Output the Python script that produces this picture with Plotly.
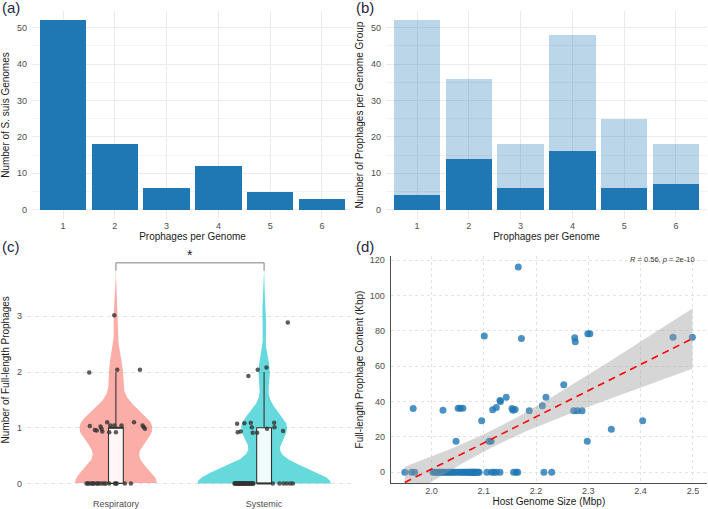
import numpy as np
import plotly.graph_objects as go

W, H = 708, 509
FONT = "Liberation Sans, Arial, sans-serif"
TICK_C = "#4d4d4d"
TITLE_C = "#1a1a1a"
TAG_C = "#262640"
BLUE = "#1f77b4"

# ---------------- data ----------------
# (a)
prophage_counts = [1, 2, 3, 4, 5, 6]
genomes_per_count = [52, 18, 6, 12, 5, 3]
# (b)
prophages_total = [52, 36, 18, 48, 25, 18]
prophages_full = [4, 14, 6, 16, 6, 7]
# (c) jittered points as read (y) and horizontal jitter (category units)
resp_y = [3.02, 1.99, 2.04, 2.04,
          1.03, 0.96, 0.95, 1.02, 0.98, 0.93, 1.10, 0.92, 1.04, 1.04, 0.92, 1.04, 1.10, 1.04, 1.01, 0.98,
          0, 0, 0, 0, 0, 0, 0, 0, 0, 0, 0, 0, 0, 0, 0, 0, 0, 0]
resp_dx = [-0.011, -0.18, 0.009, 0.162,
           -0.176, -0.142, -0.13, -0.104, -0.097, -0.092, -0.059, -0.045, -0.038, -0.011, 0.0, 0.038, 0.122, 0.18, 0.189, 0.196,
           -0.198, -0.18, -0.164, -0.149, -0.131, -0.113, -0.095, -0.068, -0.045, -0.007, 0.005, 0.061, 0.101,
           -0.19, -0.156, -0.122, -0.08, 0.0]
sys_y = [2.89, 1.93, 2.04, 2.08,
         1.07, 0.92, 0.93, 1.08, 1.09, 1.01, 0.91, 0.91, 0.98, 1.09, 1.01, 0.94] + [0] * 35
sys_dx = [0.16, -0.106, -0.043, 0.016,
          -0.182, -0.178, -0.158, -0.133, -0.09, -0.083, -0.077, -0.047, 0.02, 0.068, 0.07, 0.128,
          -0.196, -0.185, -0.174, -0.162, -0.151, -0.14, -0.128, -0.117, -0.106, -0.095, -0.083, -0.072,
          0.059, 0.104, 0.131, 0.153, 0.176, 0.194,
          -0.2, -0.19, -0.18, -0.17, -0.16, -0.15, -0.14, -0.13, -0.12, -0.11, -0.1, -0.09, -0.08, -0.075,
          -0.188, -0.165, -0.135]
groups = ["Respiratory", "Systemic"]
# (d) host genome size (Mbp) vs full-length prophage content (Kbp)
genome_size = [1.965, 2.022, 2.047, 2.051, 2.055, 2.060, 2.096, 2.101, 2.110, 2.114, 2.117, 2.124,
               2.131, 2.132, 2.143, 2.154, 2.156, 2.160, 2.166, 2.172, 2.187, 2.212, 2.219, 2.253,
               2.272, 2.274, 2.275, 2.279, 2.288, 2.298, 2.299, 2.303, 2.344, 2.404, 2.462, 2.499,
               1.949, 1.962, 1.968,
               2.003, 2.010, 2.016, 2.022, 2.029, 2.035, 2.041, 2.048, 2.056, 2.062, 2.068, 2.073,
               2.077, 2.080, 2.083, 2.087, 2.091,
               2.006, 2.013, 2.019, 2.025, 2.032, 2.038, 2.044, 2.052, 2.059, 2.065, 2.070, 2.075,
               2.078, 2.082, 2.085, 2.089,
               2.106, 2.115, 2.119, 2.124, 2.131, 2.157, 2.162, 2.165, 2.215, 2.230]
prophage_kbp = [36.0, 35.0, 17.5, 36.2, 36.2, 36.2, 29.0, 77.0, 17.5, 17.5, 35.3, 36.5,
                40.5, 40.0, 42.3, 36.0, 35.0, 35.5, 116.0, 75.6, 34.7, 37.5, 42.3, 49.5,
                34.7, 76.0, 73.8, 34.7, 34.7, 17.5, 78.3, 78.3, 24.2, 29.0, 76.3, 76.3] + [0.0] * 46
stat_label = "<i>R</i> = 0.56, <i>p</i> = 2e-10"


def px_x(a, b):
    return [a / W, b / W]


def px_y(top, bottom):
    return [1 - bottom / H, 1 - top / H]


fig = go.Figure()

# ---------------- (a) ----------------
fig.add_trace(go.Bar(x=prophage_counts, y=genomes_per_count, width=0.9,
                     marker=dict(color=BLUE, line=dict(width=0)),
                     xaxis="x", yaxis="y", showlegend=False))
# ---------------- (b) ----------------
fig.add_trace(go.Bar(x=prophage_counts, y=prophages_total, width=0.9,
                     marker=dict(color="rgba(31,119,180,0.3)", line=dict(width=0)),
                     xaxis="x2", yaxis="y2", showlegend=False))
fig.add_trace(go.Bar(x=prophage_counts, y=prophages_full, width=0.9,
                     marker=dict(color=BLUE, line=dict(width=0)),
                     xaxis="x2", yaxis="y2", showlegend=False))

# ---------------- (c) violins ----------------
vals = [np.round(np.array(resp_y)), np.round(np.array(sys_y))]
dens_list = []
for v in vals:
    n = len(v)
    sd = np.std(v, ddof=1)
    q75, q25 = np.percentile(v, [75, 25])
    bw = 0.9 * min(sd, (q75 - q25) / 1.34) * n ** -0.2
    grid = np.linspace(v.min() - 3 * bw, v.max() + 3 * bw, 512)
    d = np.exp(-0.5 * ((grid[:, None] - v[None, :]) / bw) ** 2).sum(axis=1) / (n * bw * np.sqrt(2 * np.pi))
    keep = grid >= 0
    dens_list.append((grid[keep], d[keep]))
dmax = max(d.max() for _, d in dens_list)
vcols = ["rgba(248,118,109,0.6)", "rgba(0,191,196,0.6)"]
for i, (g, d) in enumerate(dens_list):
    c = i + 1
    hw = 0.45 * d / dmax
    xs = np.concatenate([c - hw, (c + hw)[::-1]])
    ys = np.concatenate([g, g[::-1]])
    fig.add_trace(go.Scatter(x=xs, y=ys, fill="toself", fillcolor=vcols[i], mode="lines",
                             line=dict(width=0), xaxis="x3", yaxis="y3", showlegend=False,
                             hoverinfo="skip"))
# boxes (drawn as scatter so layering follows trace order)
BOXC = "#333333"
bw_half = 0.05
for i, v in enumerate(vals):
    c = i + 1
    q1, med, q3 = np.percentile(v, [25, 50, 75])
    iqr = q3 - q1
    up = v[v <= q3 + 1.5 * iqr].max()
    lo = v[v >= q1 - 1.5 * iqr].min()
    fig.add_trace(go.Scatter(x=[c - bw_half, c + bw_half, c + bw_half, c - bw_half, c - bw_half],
                             y=[q1, q1, q3, q3, q1], fill="toself",
                             fillcolor="rgba(255,255,255,0.9)", mode="lines",
                             line=dict(color=BOXC, width=1.1), xaxis="x3", yaxis="y3",
                             showlegend=False, hoverinfo="skip"))
    fig.add_trace(go.Scatter(x=[c, c, None, c, c], y=[q3, up, None, q1, lo], mode="lines",
                             line=dict(color=BOXC, width=1.1), xaxis="x3", yaxis="y3",
                             showlegend=False, hoverinfo="skip"))
    fig.add_trace(go.Scatter(x=[c - bw_half, c + bw_half], y=[med, med], mode="lines",
                             line=dict(color=BOXC, width=2), xaxis="x3", yaxis="y3",
                             showlegend=False, hoverinfo="skip"))
# jittered points
for i, (yy, dx) in enumerate([(resp_y, resp_dx), (sys_y, sys_dx)]):
    c = i + 1
    fig.add_trace(go.Scatter(x=[c + d for d in dx], y=yy, mode="markers",
                             marker=dict(color="rgba(51,51,51,0.8)", size=4.5, line=dict(width=0)),
                             xaxis="x3", yaxis="y3", showlegend=False))

# ---------------- (d) ----------------
gx = np.array(genome_size)
gy = np.array(prophage_kbp)
fig.add_trace(go.Scatter(x=gx, y=gy, mode="markers",
                         marker=dict(color="rgba(31,119,180,0.8)", size=7, line=dict(width=0)),
                         xaxis="x4", yaxis="y4", showlegend=False))
slope, intercept = np.polyfit(gx, gy, 1)
xs = np.linspace(gx.min(), gx.max(), 80)
fit = slope * xs + intercept
n = len(gx)
resid = gy - (slope * gx + intercept)
s = np.sqrt((resid ** 2).sum() / (n - 2))
se = s * np.sqrt(1 / n + (xs - gx.mean()) ** 2 / ((gx - gx.mean()) ** 2).sum())
tq = 1.99
fig.add_trace(go.Scatter(x=np.concatenate([xs, xs[::-1]]),
                         y=np.concatenate([fit + tq * se, (fit - tq * se)[::-1]]),
                         fill="toself", fillcolor="rgba(153,153,153,0.4)", mode="lines",
                         line=dict(width=0), xaxis="x4", yaxis="y4", showlegend=False,
                         hoverinfo="skip"))
fig.add_trace(go.Scatter(x=xs, y=fit, mode="lines",
                         line=dict(color="#ff0000", width=1.6, dash="7px,5px"),
                         xaxis="x4", yaxis="y4", showlegend=False))

# ---------------- layout ----------------
tickf = dict(family=FONT, size=9, color=TICK_C)
titlef = dict(family=FONT, size=10, color=TITLE_C)
grid_major = "#ebebeb"

common_cat = dict(tickvals=prophage_counts, ticktext=[str(v) for v in prophage_counts],
                  range=[0.4, 6.6], showgrid=True, gridcolor=grid_major, gridwidth=1,
                  zeroline=False, showline=False, ticks="", tickfont=tickf,
                  title=dict(text="Prophages per Genome", font=titlef, standoff=2),
                  fixedrange=True)
common_cnt = dict(range=[-2.6, 54.6], tickvals=[0, 10, 20, 30, 40, 50], showgrid=True,
                  gridcolor=grid_major, gridwidth=1, zeroline=False, showline=False, ticks="",
                  tickfont=tickf, minor=dict(dtick=5, showgrid=True, gridcolor="#f3f3f3", gridwidth=0.8),
                  ticklabelstandoff=4)

fig.update_layout(
    width=W, height=H, margin=dict(l=0, r=0, t=0, b=0),
    paper_bgcolor="white", plot_bgcolor="white", barmode="overlay", bargap=0,
    font=dict(family=FONT),
    xaxis=dict(domain=px_x(32, 353), anchor="y", **common_cat),
    yaxis=dict(domain=px_y(11, 220), anchor="x",
               title=dict(text="Number of S. suis Genomes", font=titlef, standoff=5), **common_cnt),
    xaxis2=dict(domain=px_x(386, 707), anchor="y2", **common_cat),
    yaxis2=dict(domain=px_y(11, 220), anchor="x2",
                title=dict(text="Number of Prophages per Genome Group", font=titlef, standoff=5),
                **common_cnt),
    xaxis3=dict(domain=px_x(27, 353), anchor="y3", range=[0.4, 2.6], tickvals=[1, 2],
                ticktext=groups, showgrid=False, zeroline=False, showline=False, ticks="",
                tickfont=tickf, ticklabelstandoff=2),
    yaxis3=dict(domain=px_y(246, 496.5), anchor="x3", range=[-0.2, 4.28], tickvals=[0, 1, 2, 3],
                showgrid=True, gridcolor="#e3e3e3", griddash="4px,4px", gridwidth=1, zeroline=False,
                showline=False, ticks="", tickfont=tickf, ticklabelstandoff=4,
                title=dict(text="Number of Full-length Prophages", font=titlef, standoff=5)),
    xaxis4=dict(domain=px_x(390.7, 707), anchor="y4", range=[1.922, 2.527],
                tickvals=[2.0, 2.1, 2.2, 2.3, 2.4, 2.5], ticktext=["2.0", "2.1", "2.2", "2.3", "2.4", "2.5"],
                showgrid=True, gridcolor="#e3e3e3", griddash="3px,3px", gridwidth=1, zeroline=False,
                showline=True, linecolor="#4d4d4d", linewidth=1, ticks="", tickfont=tickf,
                ticklabelstandoff=-1,
                title=dict(text="Host Genome Size (Mbp)", font=titlef, standoff=0)),
    yaxis4=dict(domain=px_y(256.6, 485.3), anchor="x4", range=[-6.37, 122.5],
                tickvals=[0, 20, 40, 60, 80, 100, 120], showgrid=True, gridcolor="#e3e3e3",
                griddash="3px,3px", gridwidth=1, zeroline=False, showline=True, linecolor="#4d4d4d",
                linewidth=1, ticks="", tickfont=tickf, ticklabelstandoff=3,
                title=dict(text="Full-length Prophage Content (Kbp)", font=titlef, standoff=4)),
)

# significance bracket
fig.add_shape(type="path", path="M 1,3.82 L 1,3.96 L 2,3.96 L 2,3.82", xref="x3", yref="y3",
              line=dict(color="#7f7f7f", width=1))
fig.add_annotation(x=1.5, y=3.96, xref="x3", yref="y3", text="*", showarrow=False,
                   yanchor="bottom", font=dict(family=FONT, size=14, color=TITLE_C), yshift=-2)
fig.add_annotation(x=2.442, y=120.3, xref="x4", yref="y4", text=stat_label, showarrow=False,
                   font=dict(family=FONT, size=7.5, color="#333333"))

# panel tags
for tag, x, y in [("(a)", 0, 8), ("(b)", 354, 8), ("(c)", 0, 247), ("(d)", 354, 247)]:
    fig.add_annotation(x=x / W, y=1 - y / H, xref="paper", yref="paper", text=tag, showarrow=False,
                       xanchor="left", yanchor="middle", font=dict(family=FONT, size=15, color=TAG_C))

fig.write_html("out.html")
